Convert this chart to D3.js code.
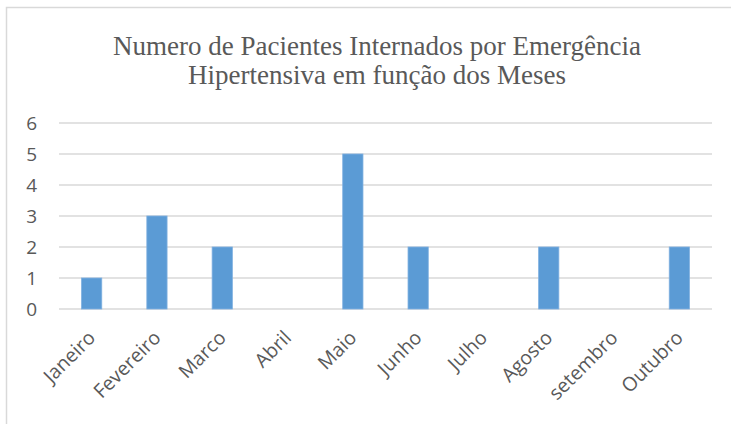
<!DOCTYPE html>
<html>
<head>
<meta charset="utf-8">
<script src="https://cdn.jsdelivr.net/npm/d3@7"></script>
<style>
  body { margin: 0; background: #fff; overflow: hidden; }
</style>
</head>
<body>
<div class="chart"></div>
<script>
var months = ["Janeiro", "Fevereiro", "Marco", "Abril", "Maio", "Junho", "Julho", "Agosto", "setembro", "Outubro"];
var patients = [1, 3, 2, 0, 5, 2, 0, 2, 0, 2];
var yTicks = [0, 1, 2, 3, 4, 5, 6];
var titleLines = ["Numero de Pacientes Internados por Emergência", "Hipertensiva em função dos Meses"];

var width = 731, height = 424;

var svg = d3.select(".chart").append("svg")
    .attr("width", width)
    .attr("height", height);

// chart frame (only top and left edges fall inside the picture)
svg.append("rect")
    .attr("x", 6.5).attr("y", 7.5)
    .attr("width", 740).attr("height", 430)
    .attr("fill", "#fff")
    .attr("stroke", "#d9d9d9")
    .attr("stroke-width", 1.5);

var x = d3.scaleBand()
    .domain(months)
    .range([59, 712])
    .paddingInner(0.69)
    .paddingOuter(0.345);

var y = d3.scaleLinear()
    .domain([0, 6])
    .range([309, 123]);

// title
svg.append("text")
    .attr("x", 377)
    .attr("y", 55)
    .attr("text-anchor", "middle")
    .attr("font-family", "Liberation Serif, Times New Roman, serif")
    .attr("font-size", "27px")
    .attr("fill", "#595959")
    .selectAll("tspan")
    .data(titleLines)
    .enter().append("tspan")
    .attr("x", 377)
    .attr("dy", function(d, i) { return i ? 29 : 0; })
    .text(function(d) { return d; });

// gridlines
svg.append("g")
    .selectAll("line")
    .data(yTicks)
    .enter().append("line")
    .attr("x1", 59).attr("x2", 712)
    .attr("y1", function(d) { return y(d); })
    .attr("y2", function(d) { return y(d); })
    .attr("stroke", "#d9d9d9")
    .attr("stroke-width", 1.3);

// y axis labels
var yAxis = svg.append("g")
    .attr("transform", "translate(37,0)")
    .call(d3.axisLeft(y).tickValues(yTicks).tickFormat(d3.format("d")).tickSize(0).tickPadding(0));
yAxis.select(".domain").remove();
yAxis.selectAll("text")
    .style("font-family", "Open Sans, sans-serif")
    .style("font-size", "19px")
    .attr("fill", "#595959")
    .attr("text-anchor", "end");

// bars
svg.append("g")
    .selectAll("rect")
    .data(patients)
    .enter().append("rect")
    .attr("x", function(d, i) { return x(months[i]); })
    .attr("y", function(d) { return y(d); })
    .attr("width", x.bandwidth())
    .attr("height", function(d) { return y(0) - y(d); })
    .attr("fill", "#5b9bd5")
    .attr("stroke", "#7fb0e0")
    .attr("stroke-width", 0.8);

// x axis labels
var xAxis = svg.append("g")
    .attr("transform", "translate(0," + y(0) + ")")
    .call(d3.axisBottom(x).tickSize(0).tickPadding(0));
xAxis.select(".domain").remove();
xAxis.selectAll("text")
    .style("font-family", "Open Sans, sans-serif")
    .style("font-size", "19.5px")
    .attr("fill", "#595959")
    .attr("text-anchor", "end")
    .attr("dy", "0")
    .attr("transform", "translate(5,30) rotate(-45)");
</script>
</body>
</html>
